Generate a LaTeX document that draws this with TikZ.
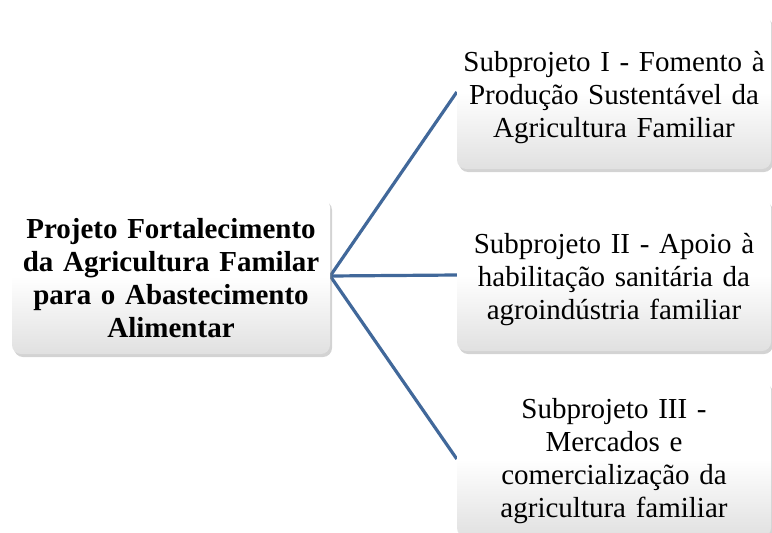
\documentclass[tikz,border=0pt]{standalone}
\usepackage{fontspec}
\setmainfont{Liberation Serif}
\usetikzlibrary{shadows,backgrounds}
\definecolor{linkblue}{HTML}{41689A}
\tikzset{
 projbox/.style={draw=none, rounded corners=9pt, top color=white, bottom color=black!12, middle color=white,
   drop shadow={opacity=.35, shadow xshift=2pt, shadow yshift=-3pt},
   align=center, inner sep=2pt, font=\fontsize{29}{33}\selectfont},
 textdown/.style={execute at begin node={\rule{0pt}{#1}}},
 link/.style={linkblue, line width=3.2pt}
}
\begin{document}
\begin{tikzpicture}[x=1pt,y=-1pt]
\useasboundingbox (0,0) rectangle (772,533);
\node[projbox, textdown=24pt, minimum width=318pt, minimum height=156pt, text width=314pt, font=\fontsize{29}{33}\selectfont\bfseries] (proj) at (171,276)
 {Projeto Fortalecimento\\da Agricultura Familar\\para o Abastecimento\\Alimentar};
\node[projbox, textdown=32pt, minimum width=312pt, minimum height=154pt, text width=310pt] (sub1) at (614,92)
 {Subprojeto I - Fomento à\\Produção Sustentável da\\Agricultura Familiar};
\node[projbox, textdown=30pt, minimum width=312pt, minimum height=152pt, text width=310pt] (sub2) at (614,275)
 {Subprojeto II - Apoio à\\habilitação sanitária da\\agroindústria familiar};
\node[projbox, textdown=24pt, minimum width=312pt, minimum height=156pt, text width=310pt] (sub3) at (614,459)
 {Subprojeto III -\\Mercados e\\comercialização da\\agricultura familiar};
\begin{scope}[on background layer]
\foreach \s in {sub1,sub2,sub3} {
 \draw[link] (proj.east) -- (\s.west);
}
\end{scope}
\end{tikzpicture}
\end{document}
